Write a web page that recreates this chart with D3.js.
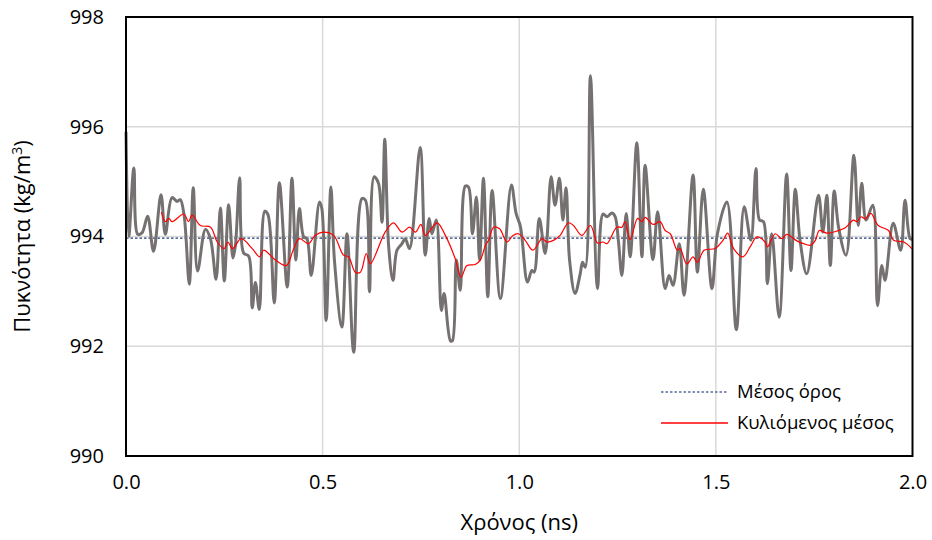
<!DOCTYPE html>
<html><head><meta charset="utf-8">
<script src="https://cdn.jsdelivr.net/npm/d3@7/dist/d3.min.js"></script>
<style>body{margin:0;background:#fff}svg{display:block}</style>
</head><body><div id="chart"></div>
<script>
// Gray series: density (kg/m3) vs time (ns)
const timeNs = [0.000,0.007,0.020,0.030,0.041,0.055,0.070,0.089,0.100,0.117,0.130,0.138,0.148,0.161,0.171,0.182,0.202,0.215,0.229,0.240,0.250,0.261,0.272,0.278,0.289,0.299,0.312,0.321,0.329,0.339,0.353,0.361,0.377,0.390,0.410,0.422,0.432,0.441,0.452,0.460,0.471,0.492,0.498,0.509,0.521,0.530,0.549,0.562,0.579,0.600,0.609,0.619,0.631,0.642,0.651,0.658,0.668,0.679,0.689,0.702,0.710,0.721,0.748,0.761,0.771,0.778,0.789,0.802,0.809,0.825,0.830,0.840,0.850,0.863,0.871,0.881,0.891,0.899,0.909,0.920,0.931,0.952,0.980,0.992,1.003,1.021,1.032,1.038,1.051,1.066,1.081,1.091,1.102,1.111,1.119,1.128,1.142,1.155,1.161,1.168,1.181,1.199,1.213,1.223,1.236,1.244,1.252,1.261,1.272,1.282,1.299,1.312,1.320,1.340,1.352,1.371,1.381,1.391,1.407,1.419,1.442,1.453,1.468,1.490,1.504,1.528,1.552,1.572,1.589,1.602,1.611,1.621,1.631,1.642,1.661,1.680,1.691,1.702,1.714,1.731,1.761,1.772,1.782,1.791,1.801,1.812,1.831,1.851,1.862,1.871,1.882,1.899,1.911,1.922,1.930,1.951,1.970,1.981,1.994,2.000];
const density = [995.91,994.00,995.25,994.04,994.07,994.37,993.73,994.76,994.04,994.71,994.64,994.67,994.37,993.13,994.89,993.37,994.13,993.95,993.22,994.52,993.19,994.58,993.61,993.82,995.07,993.70,993.64,992.70,993.16,992.67,994.46,994.40,992.79,994.98,993.08,995.06,993.57,994.51,993.99,993.96,993.29,994.63,994.51,992.47,994.90,993.57,992.35,994.05,991.89,994.69,994.66,992.99,995.09,994.97,994.26,995.77,993.81,993.20,993.75,993.87,993.96,993.78,995.62,993.66,994.33,994.05,994.30,992.65,992.96,992.10,992.10,993.57,993.02,994.92,994.90,994.05,994.72,993.57,995.06,992.90,994.84,992.87,994.94,994.42,994.18,993.17,993.38,993.35,994.33,993.69,995.09,994.57,995.06,994.30,994.89,993.57,992.96,993.32,993.53,993.44,996.93,993.05,994.41,994.36,994.43,994.36,993.93,993.29,994.42,993.63,995.71,993.63,995.30,993.58,994.45,993.05,993.29,993.11,993.87,992.93,995.12,993.35,994.86,993.05,994.05,994.63,992.30,994.54,993.93,995.24,994.30,994.27,993.14,994.05,992.53,995.14,993.38,994.86,993.93,993.32,994.75,994.08,994.75,993.47,994.83,994.17,993.66,995.48,994.20,994.97,994.30,994.57,992.74,993.47,993.20,994.24,993.75,994.66,993.96,993.95];

// Rolling mean (red)
const rollTime = [0.090,0.100,0.109,0.117,0.147,0.159,0.168,0.189,0.215,0.232,0.250,0.259,0.271,0.293,0.321,0.340,0.350,0.380,0.408,0.425,0.441,0.464,0.481,0.501,0.528,0.553,0.566,0.583,0.596,0.611,0.621,0.659,0.680,0.702,0.721,0.736,0.750,0.761,0.791,0.812,0.837,0.852,0.867,0.888,0.901,0.914,0.922,0.935,0.950,0.969,0.984,0.998,1.015,1.035,1.058,1.070,1.087,1.104,1.125,1.138,1.159,1.181,1.199,1.213,1.223,1.248,1.261,1.269,1.282,1.301,1.312,1.320,1.341,1.358,1.371,1.384,1.402,1.409,1.426,1.442,1.453,1.470,1.498,1.518,1.530,1.545,1.569,1.587,1.604,1.625,1.631,1.651,1.668,1.680,1.706,1.723,1.740,1.753,1.763,1.782,1.808,1.829,1.850,1.859,1.869,1.880,1.894,1.913,1.939,1.952,1.978,1.998];
const rollMean = [994.45,994.27,994.33,994.27,994.41,994.27,994.39,994.20,994.17,993.90,993.78,993.90,993.78,993.96,993.78,993.63,993.75,993.57,993.47,993.75,993.96,993.87,994.02,994.08,994.02,993.66,993.63,993.35,993.35,993.69,993.50,994.08,994.25,994.08,994.17,994.08,994.22,994.02,994.25,994.02,993.60,993.26,993.47,993.49,993.57,993.84,993.93,994.17,994.14,993.90,994.02,994.05,993.93,993.75,993.96,993.90,993.93,994.02,994.25,994.20,994.02,994.20,993.88,993.90,993.87,994.17,994.17,994.27,993.94,994.33,994.27,994.35,994.22,994.27,994.11,994.05,993.75,993.78,993.50,993.63,993.53,993.75,993.78,993.93,994.06,993.78,993.63,993.81,993.99,993.90,993.81,994.05,993.96,994.04,993.92,993.87,993.84,993.93,994.11,994.06,994.10,994.16,994.30,994.27,994.36,994.32,994.42,994.20,994.11,993.93,993.90,993.78];

const meanValue = 993.97;
const xTicks = [0, 0.5, 1.0, 1.5, 2.0];
const yTicks = [990, 992, 994, 996, 998];
const legendLabels = ["Μέσος όρος", "Κυλιόμενος μέσος"];
const xTitle = "Χρόνος (ns)";

const W = 932, H = 540;
const m = {left: 126, right: 19.5, top: 17, bottom: 84};
const svg = d3.select("#chart").append("svg").attr("width", W).attr("height", H);
const x = d3.scaleLinear().domain([0, 2]).range([m.left, W - m.right]);
const y = d3.scaleLinear().domain([990, 998]).range([H - m.bottom, m.top]);
const font = "'Open Sans', 'Noto Sans', sans-serif";

// gridlines
const g = svg.append("g");
g.selectAll("line.h").data(yTicks.slice(1, -1)).join("line")
  .attr("x1", x(0)).attr("x2", x(2)).attr("y1", d => y(d)).attr("y2", d => y(d))
  .attr("stroke", "#d9d9d9").attr("stroke-width", 1.5);
g.selectAll("line.v").data(xTicks.slice(1, -1)).join("line")
  .attr("y1", y(990)).attr("y2", y(998)).attr("x1", d => x(d)).attr("x2", d => x(d))
  .attr("stroke", "#d9d9d9").attr("stroke-width", 1.5);

// axes labels via d3 axes
const yAxis = svg.append("g").attr("transform", `translate(${m.left},0)`)
  .call(d3.axisLeft(y).tickValues(yTicks).tickFormat(d3.format("d")).tickSize(0).tickPadding(22));
const xAxis = svg.append("g").attr("transform", `translate(0,${H - m.bottom})`)
  .call(d3.axisBottom(x).tickValues(xTicks).tickFormat(d3.format(".1f")).tickSize(0).tickPadding(19));
[yAxis, xAxis].forEach(a => {
  a.select(".domain").remove();
  a.selectAll("text").attr("font-family", font).attr("font-size", 20).attr("fill", "#000");
});

// mean line
svg.append("line").attr("x1", x(0)).attr("x2", x(2)).attr("y1", y(meanValue)).attr("y2", y(meanValue))
  .attr("stroke", "#203f7a").attr("stroke-width", 1.3).attr("stroke-dasharray", "2.5,2");

// gray data
const pts = timeNs.map((t, i) => [t, density[i]]);
svg.append("path").datum(pts)
  .attr("d", d3.line().x(d => x(d[0])).y(d => y(d[1])).curve(d3.curveCatmullRom.alpha(0.5)))
  .attr("fill", "none").attr("stroke", "#767171").attr("stroke-width", 3).attr("stroke-linejoin", "round");

// rolling mean
const rpts = rollTime.map((t, i) => [t, rollMean[i]]);
svg.append("path").datum(rpts)
  .attr("d", d3.line().x(d => x(d[0])).y(d => y(d[1])).curve(d3.curveCatmullRom.alpha(0.5)))
  .attr("fill", "none").attr("stroke", "#ff0000").attr("stroke-width", 1.2);

// frame
svg.append("rect").attr("x", x(0)).attr("y", y(998)).attr("width", x(2) - x(0)).attr("height", y(990) - y(998))
  .attr("fill", "none").attr("stroke", "#000").attr("stroke-width", 2);

// legend
const leg = svg.append("g");
const legStyles = [{stroke: "#5a6e9a", dash: "2.5,2"}, {stroke: "#ff0000", dash: null}];
legendLabels.forEach((lab, i) => {
  const ly = 392 + i * 31;
  leg.append("line").attr("x1", 661).attr("x2", 728).attr("y1", ly).attr("y2", ly)
    .attr("stroke", legStyles[i].stroke).attr("stroke-width", 1.3).attr("stroke-dasharray", legStyles[i].dash);
  leg.append("text").attr("x", 737).attr("y", ly).attr("dy", "0.35em").text(lab)
    .attr("font-family", font).attr("font-size", 18.5).attr("fill", "#000");
});

// axis titles
svg.append("text").attr("x", (x(0) + x(2)) / 2).attr("y", 530).attr("text-anchor", "middle")
  .attr("font-family", font).attr("font-size", 22).text(xTitle);
const yt = svg.append("text").attr("transform", `translate(30,${(y(990) + y(998)) / 2}) rotate(-90)`)
  .attr("text-anchor", "middle").attr("font-family", font).attr("font-size", 22);
yt.append("tspan").text("Πυκνότητα (kg/m");
yt.append("tspan").attr("dy", -8).attr("font-size", 14).text("3");
yt.append("tspan").attr("dy", 8).text(")");
</script></body></html>
